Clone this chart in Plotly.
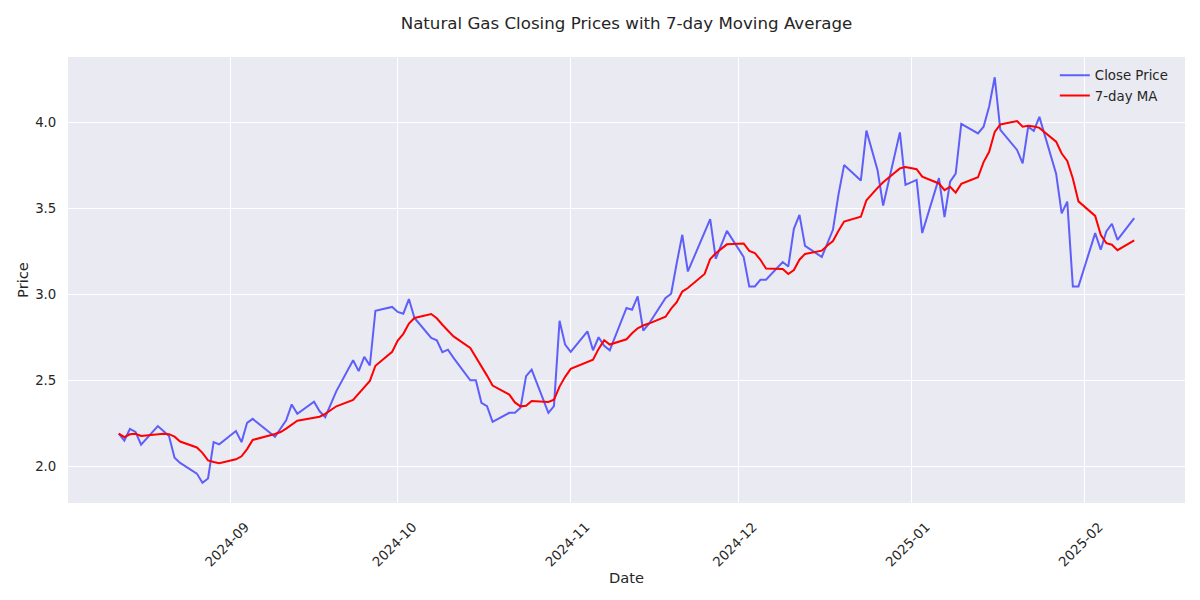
import pandas as pd
import plotly.graph_objects as go

dates = [
    "2024-08-12", "2024-08-13", "2024-08-14", "2024-08-15", "2024-08-16",
    "2024-08-19", "2024-08-20", "2024-08-21", "2024-08-22", "2024-08-23",
    "2024-08-26", "2024-08-27", "2024-08-28", "2024-08-29", "2024-08-30",
    "2024-09-02", "2024-09-03", "2024-09-04", "2024-09-05",
    "2024-09-09", "2024-09-10", "2024-09-11", "2024-09-12", "2024-09-13",
    "2024-09-16", "2024-09-17", "2024-09-18", "2024-09-19", "2024-09-20",
    "2024-09-23", "2024-09-24", "2024-09-25", "2024-09-26", "2024-09-27",
    "2024-09-30", "2024-10-01", "2024-10-02", "2024-10-03", "2024-10-04",
    "2024-10-07", "2024-10-08", "2024-10-09", "2024-10-10", "2024-10-11",
    "2024-10-14", "2024-10-15", "2024-10-16", "2024-10-17", "2024-10-18",
    "2024-10-21", "2024-10-22", "2024-10-23", "2024-10-24", "2024-10-25",
    "2024-10-28", "2024-10-29", "2024-10-30", "2024-10-31", "2024-11-01",
    "2024-11-04", "2024-11-05", "2024-11-06", "2024-11-07", "2024-11-08",
    "2024-11-11", "2024-11-12", "2024-11-13", "2024-11-14", "2024-11-15",
    "2024-11-18", "2024-11-19", "2024-11-20", "2024-11-21", "2024-11-22",
    "2024-11-25", "2024-11-26", "2024-11-27", "2024-11-29",
    "2024-12-02", "2024-12-03", "2024-12-04", "2024-12-05", "2024-12-06",
    "2024-12-09", "2024-12-10", "2024-12-11", "2024-12-12", "2024-12-13",
    "2024-12-16", "2024-12-17", "2024-12-18", "2024-12-19", "2024-12-20",
    "2024-12-23", "2024-12-24", "2024-12-26", "2024-12-27",
    "2024-12-30", "2024-12-31", "2025-01-02", "2025-01-03",
    "2025-01-06", "2025-01-07", "2025-01-08", "2025-01-09", "2025-01-10",
    "2025-01-13", "2025-01-14", "2025-01-15", "2025-01-16", "2025-01-17",
    "2025-01-20", "2025-01-21", "2025-01-22", "2025-01-23", "2025-01-24",
    "2025-01-27", "2025-01-28", "2025-01-29", "2025-01-30", "2025-01-31",
    "2025-02-03", "2025-02-04", "2025-02-05", "2025-02-06", "2025-02-07",
    "2025-02-10",
]

close = [
    2.190, 2.150, 2.218, 2.200, 2.126,
    2.234, 2.205, 2.176, 2.050, 2.020,
    1.958, 1.905, 1.930, 2.141, 2.128,
    2.205, 2.141, 2.253, 2.276,
    2.172, 2.220, 2.268, 2.360, 2.305,
    2.375, 2.320, 2.286, 2.360, 2.437,
    2.616, 2.553, 2.636, 2.586, 2.904,
    2.926, 2.897, 2.887, 2.972, 2.862,
    2.746, 2.732, 2.663, 2.678, 2.630,
    2.500, 2.500, 2.369, 2.350, 2.259,
    2.311, 2.311, 2.340, 2.524, 2.562,
    2.311, 2.350, 2.846, 2.707, 2.665,
    2.784, 2.674, 2.750, 2.700, 2.674,
    2.920, 2.910, 2.987, 2.788, 2.827,
    2.978, 3.003, 3.180, 3.345, 3.132,
    3.360, 3.436, 3.206, 3.368,
    3.216, 3.045, 3.045, 3.084, 3.084,
    3.187, 3.161, 3.380, 3.461, 3.281,
    3.216, 3.290, 3.374, 3.580, 3.750,
    3.660, 3.950, 3.720, 3.515,
    3.940, 3.635, 3.664, 3.355,
    3.674, 3.448, 3.654, 3.700, 3.990,
    3.934, 3.973, 4.090, 4.260, 3.954,
    3.838, 3.760, 3.973, 3.948, 4.030,
    3.700, 3.470, 3.538, 3.045, 3.045,
    3.355, 3.258, 3.364, 3.409, 3.316,
    3.442,
]

x_tick_dates = ["2024-09-01", "2024-10-01", "2024-11-01", "2024-12-01", "2025-01-01", "2025-02-01"]
x_tick_labels = ["2024-09", "2024-10", "2024-11", "2024-12", "2025-01", "2025-02"]
y_tick_vals = [2.0, 2.5, 3.0, 3.5, 4.0]
y_tick_labels = ["2.0", "2.5", "3.0", "3.5", "4.0"]

df = pd.DataFrame({"Date": pd.to_datetime(dates), "Close": close})
df["MA7"] = df["Close"].rolling(window=7, min_periods=1).mean()

# matplotlib-like 5% margins
x0, x1 = df["Date"].min(), df["Date"].max()
xpad = (x1 - x0) * 0.05
ymin, ymax = df["Close"].min(), df["Close"].max()
ypad = (ymax - ymin) * 0.05

text_color = "#262626"
font_family = "DejaVu Sans"

# page body has an 8px default margin, so the figure is drawn 8px in
W, H = 1192, 592

fig = go.Figure()
fig.add_trace(go.Scatter(
    x=df["Date"], y=df["Close"], mode="lines", name="Close Price",
    line=dict(color="rgba(0,0,255,0.6)", width=2),
))
fig.add_trace(go.Scatter(
    x=df["Date"], y=df["MA7"], mode="lines", name="7-day MA",
    line=dict(color="red", width=2),
))

fig.update_layout(
    width=W, height=H,
    paper_bgcolor="white",
    plot_bgcolor="#EAEAF2",
    font=dict(family=font_family, color=text_color, size=13.33),
    margin=dict(l=60, r=15, t=49, b=97, autoexpand=False),
    title=dict(
        text="Natural Gas Closing Prices with 7-day Moving Average",
        x=0.5, xref="paper", xanchor="center",
        y=1 - 15 / H, yanchor="middle", yref="container",
        font=dict(size=16.67, color=text_color, family=font_family),
    ),
    showlegend=True,
    legend=dict(
        x=0.99, y=0.993, xanchor="right", yanchor="top",
        bgcolor="rgba(0,0,0,0)", borderwidth=0,
        font=dict(size=13.33, color=text_color, family=font_family),
        itemwidth=30, tracegroupgap=0,
    ),
)

fig.update_xaxes(
    range=[x0 - xpad, x1 + xpad],
    tickmode="array", tickvals=pd.to_datetime(x_tick_dates), ticktext=x_tick_labels,
    tickangle=-45,
    showgrid=True, gridcolor="white", gridwidth=1.3,
    zeroline=False, showline=False,
    ticks="outside", ticklen=10, tickcolor="rgba(0,0,0,0)",
    ticklabelshift=15,
    tickfont=dict(size=13.33, color=text_color),
    automargin=False,
    title=dict(text="Date", font=dict(size=14.67, color=text_color), standoff=4),
)
fig.update_yaxes(
    range=[ymin - ypad, ymax + ypad],
    tickmode="array", tickvals=y_tick_vals, ticktext=y_tick_labels,
    showgrid=True, gridcolor="white", gridwidth=1.3,
    zeroline=False, showline=False,
    ticks="outside", ticklen=8, tickcolor="rgba(0,0,0,0)",
    tickfont=dict(size=13.33, color=text_color),
    automargin=False,
    title=dict(text="Price", font=dict(size=14.67, color=text_color), standoff=2),
)

fig.write_html("out.html")
